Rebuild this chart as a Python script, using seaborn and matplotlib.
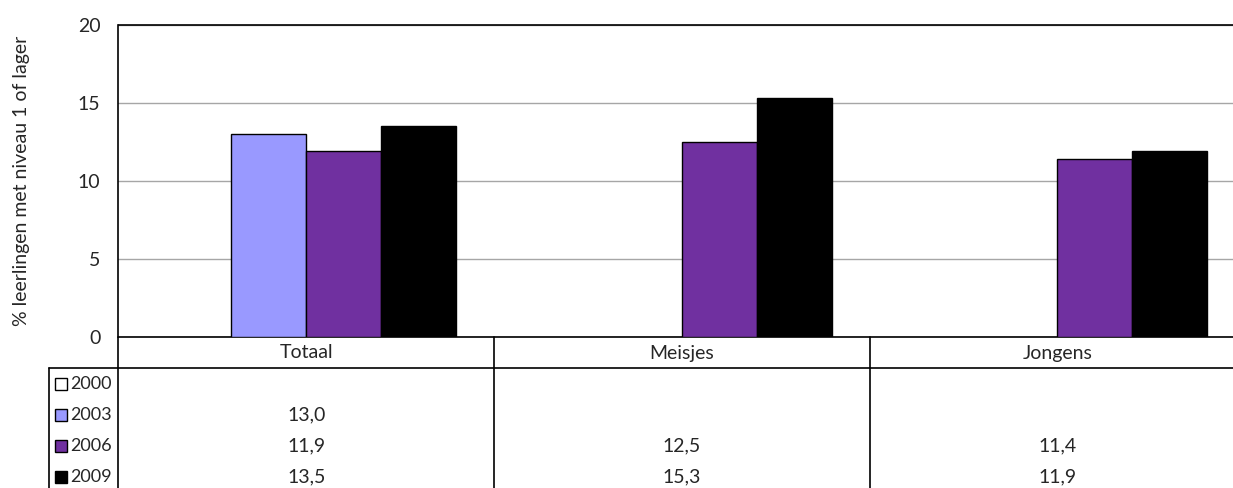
import numpy as np
import pandas as pd
import matplotlib
matplotlib.use("Agg")
import matplotlib.pyplot as plt
import seaborn as sns
from matplotlib.patches import Rectangle
from matplotlib.lines import Line2D
from matplotlib.transforms import blended_transform_factory

# ------------------------------------------------------------
# data
# ------------------------------------------------------------
categories = ["Totaal", "Meisjes", "Jongens"]
years = ["2000", "2003", "2006", "2009"]
vals_2000 = [np.nan, np.nan, np.nan]
vals_2003 = [13.0, np.nan, np.nan]
vals_2006 = [11.9, 12.5, 11.4]
vals_2009 = [13.5, 15.3, 11.9]
colors = ["#FFFFFF", "#9999FF", "#7030A0", "#000000"]
ylabel = "% leerlingen met niveau 1 of lager"

series = {"2000": vals_2000, "2003": vals_2003, "2006": vals_2006, "2009": vals_2009}
rows = []
for yr in years:
    for cat, v in zip(categories, series[yr]):
        rows.append({"groep": cat, "jaar": yr, "pct": v})
df = pd.DataFrame(rows)
plot_df = df.dropna()

# ------------------------------------------------------------
# figure
# ------------------------------------------------------------
sns.set_style("white")
plt.rcParams["font.family"] = ["Lato", "DejaVu Sans"]
FS = 14        # axis text
FS_TAB = 13    # table text

W, H = 1233, 488
fig = plt.figure(figsize=(W / 100, H / 100), dpi=100)

def fx(px):
    return px / W

def fy(py):
    return 1 - py / H

ax_left, ax_right, ax_top, ax_bottom = 118.5, 1245, 25, 337
ax = fig.add_axes([fx(ax_left), fy(ax_bottom), fx(ax_right - ax_left), (ax_bottom - ax_top) / H])

sns.barplot(data=plot_df, x="groep", y="pct", hue="jaar", order=categories,
            hue_order=years, palette=dict(zip(years, colors)), saturation=1,
            edgecolor="black", linewidth=1, width=0.8, legend=False, ax=ax, zorder=3)

ax.set_xlim(-0.5, 2.5)
ax.set_ylim(0, 20)
ax.set_yticks([0, 5, 10, 15, 20])
ax.set_yticklabels(["0", "5", "10", "15", "20"], fontsize=FS)
ax.set_xticks([])
ax.set_xlabel("")
ax.set_ylabel(ylabel, fontsize=FS)
ax.yaxis.set_label_coords((30 - ax_left) / (ax_right - ax_left), 0.5)
ax.tick_params(axis="y", direction="out", length=5, width=1, color="black", pad=8)
ax.grid(axis="y", color="#A6A6A6", linewidth=1, zorder=0)
ax.set_axisbelow(True)
for side in ["left", "bottom", "top"]:
    ax.spines[side].set_color("black")
    ax.spines[side].set_linewidth(1.2)
ax.spines["right"].set_visible(False)

# ------------------------------------------------------------
# data table under the chart
# ------------------------------------------------------------
tr = blended_transform_factory(ax.transData, fig.transFigure)

header_y = 353
row_ys = [384, 415, 446, 477]
line_y = 368
table_left = 49

# horizontal line under the category header
fig.add_artist(Line2D([fx(table_left), 1], [fy(line_y), fy(line_y)],
                      color="black", linewidth=1.2))
# left border of the legend column
fig.add_artist(Line2D([fx(table_left), fx(table_left)], [fy(line_y), 0],
                      color="black", linewidth=1.2))
# column dividers
fig.add_artist(Line2D([fx(ax_left), fx(ax_left)], [fy(ax_bottom), 0],
                      color="black", linewidth=1.2))
for xd in [0.5, 1.5]:
    fig.add_artist(Line2D([xd, xd], [fy(ax_bottom), 0], transform=tr,
                          color="black", linewidth=1.2))

for i, cat in enumerate(categories):
    fig.text(i, fy(header_y), cat, transform=tr, ha="center", va="center", fontsize=FS)

for yr, col, ry in zip(years, colors, row_ys):
    fig.add_artist(Rectangle((fx(55), fy(ry + 6)), fx(12), 12 / H, facecolor=col,
                             edgecolor="black", linewidth=1, transform=fig.transFigure))
    fig.text(fx(70), fy(ry), yr, ha="left", va="center", fontsize=FS_TAB)
    for i, v in enumerate(series[yr]):
        if not np.isnan(v):
            fig.text(i, fy(ry), f"{v:.1f}".replace(".", ","), transform=tr,
                     ha="center", va="center", fontsize=FS)

fig.savefig("out.png", dpi=100)
